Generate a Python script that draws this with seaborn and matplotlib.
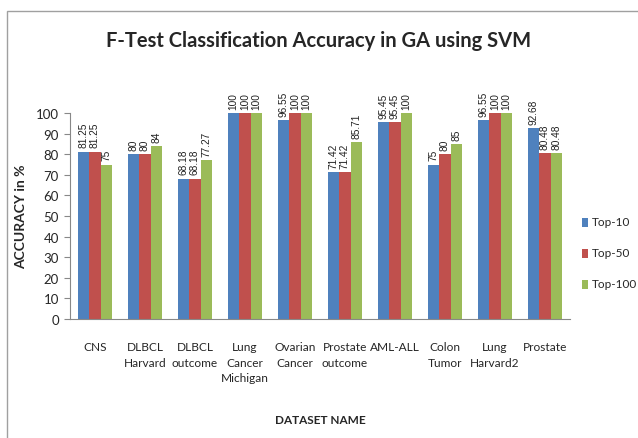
import matplotlib
matplotlib.use('Agg')
import matplotlib.pyplot as plt
import seaborn as sns
import pandas as pd
from matplotlib.patches import Rectangle

datasets = ['CNS', 'DLBCL\nHarvard', 'DLBCL\noutcome', 'Lung\nCancer\nMichigan', 'Ovarian\nCancer',
            'Prostate\noutcome', 'AML-ALL', 'Colon\nTumor', 'Lung\nHarvard2', 'Prostate']
top10 = [81.25, 80, 68.18, 100, 96.55, 71.42, 95.45, 75, 96.55, 92.68]
top50 = [81.25, 80, 68.18, 100, 100, 71.42, 95.45, 80, 100, 80.48]
top100 = [75, 84, 77.27, 100, 100, 85.71, 100, 85, 100, 80.48]
series = ['Top-10', 'Top-50', 'Top-100']
colors = ['#4F81BD', '#C0504D', '#9BBB59']

df = pd.DataFrame({
    'dataset': datasets * 3,
    'series': [s for s in series for _ in datasets],
    'acc': top10 + top50 + top100,
})

sns.set_style('white')
plt.rcParams['font.family'] = ['Lato', 'DejaVu Sans']

fig = plt.figure(figsize=(6.38, 4.39), dpi=100)
fig.patches.append(Rectangle((7 / 638, -0.1), 1.2, 1 - 12 / 439 + 0.1, transform=fig.transFigure,
                             fill=False, edgecolor='#A0A0A0', linewidth=1))
ax = fig.add_axes((70 / 638, 1 - 320 / 439, 500 / 638, 206 / 439))

sns.barplot(data=df, x='dataset', y='acc', hue='series', palette=colors, ax=ax,
            width=0.68, saturation=1, legend=False, linewidth=0)

ax.set_ylim(0, 100)
ax.set_xlim(-0.5, len(datasets) - 0.5)
ax.set_yticks(range(0, 101, 10))
ax.tick_params(axis='y', length=4, color='#888888', labelsize=9.5, pad=4, left=True)
ax.tick_params(axis='x', length=0, labelsize=8.6, pad=16)
for lbl in ax.get_xticklabels():
    lbl.set_linespacing(1.5)
for s in ['top', 'right']:
    ax.spines[s].set_visible(False)
for s in ['left', 'bottom']:
    ax.spines[s].set_color('#888888')
ax.set_xlabel('DATASET NAME', fontsize=8.5, fontweight='bold', labelpad=22)
ax.set_ylabel('ACCURACY in %', fontsize=10, fontweight='bold', labelpad=6)

for cont in ax.containers:
    labels = ['%g' % v for v in cont.datavalues]
    ax.bar_label(cont, labels=labels, rotation=90, padding=3, fontsize=7.3,
                 family='Liberation Sans', color='#222222')

for i, (s, c) in enumerate(zip(series, colors)):
    y = 1 - (223 + 31 * i) / 439
    fig.patches.append(Rectangle((582 / 638, y - 4.5 / 439), 6 / 638, 9 / 439,
                                 transform=fig.transFigure, facecolor=c, edgecolor='none'))
    fig.text(592 / 638, y, s, fontsize=8.5, va='center', ha='left')

fig.text(0.5, 1 - 41 / 439, 'F-Test Classification Accuracy in GA using SVM', ha='center', va='center',
         fontsize=14.5, fontweight='bold')

fig.savefig('out.png', dpi=100)
